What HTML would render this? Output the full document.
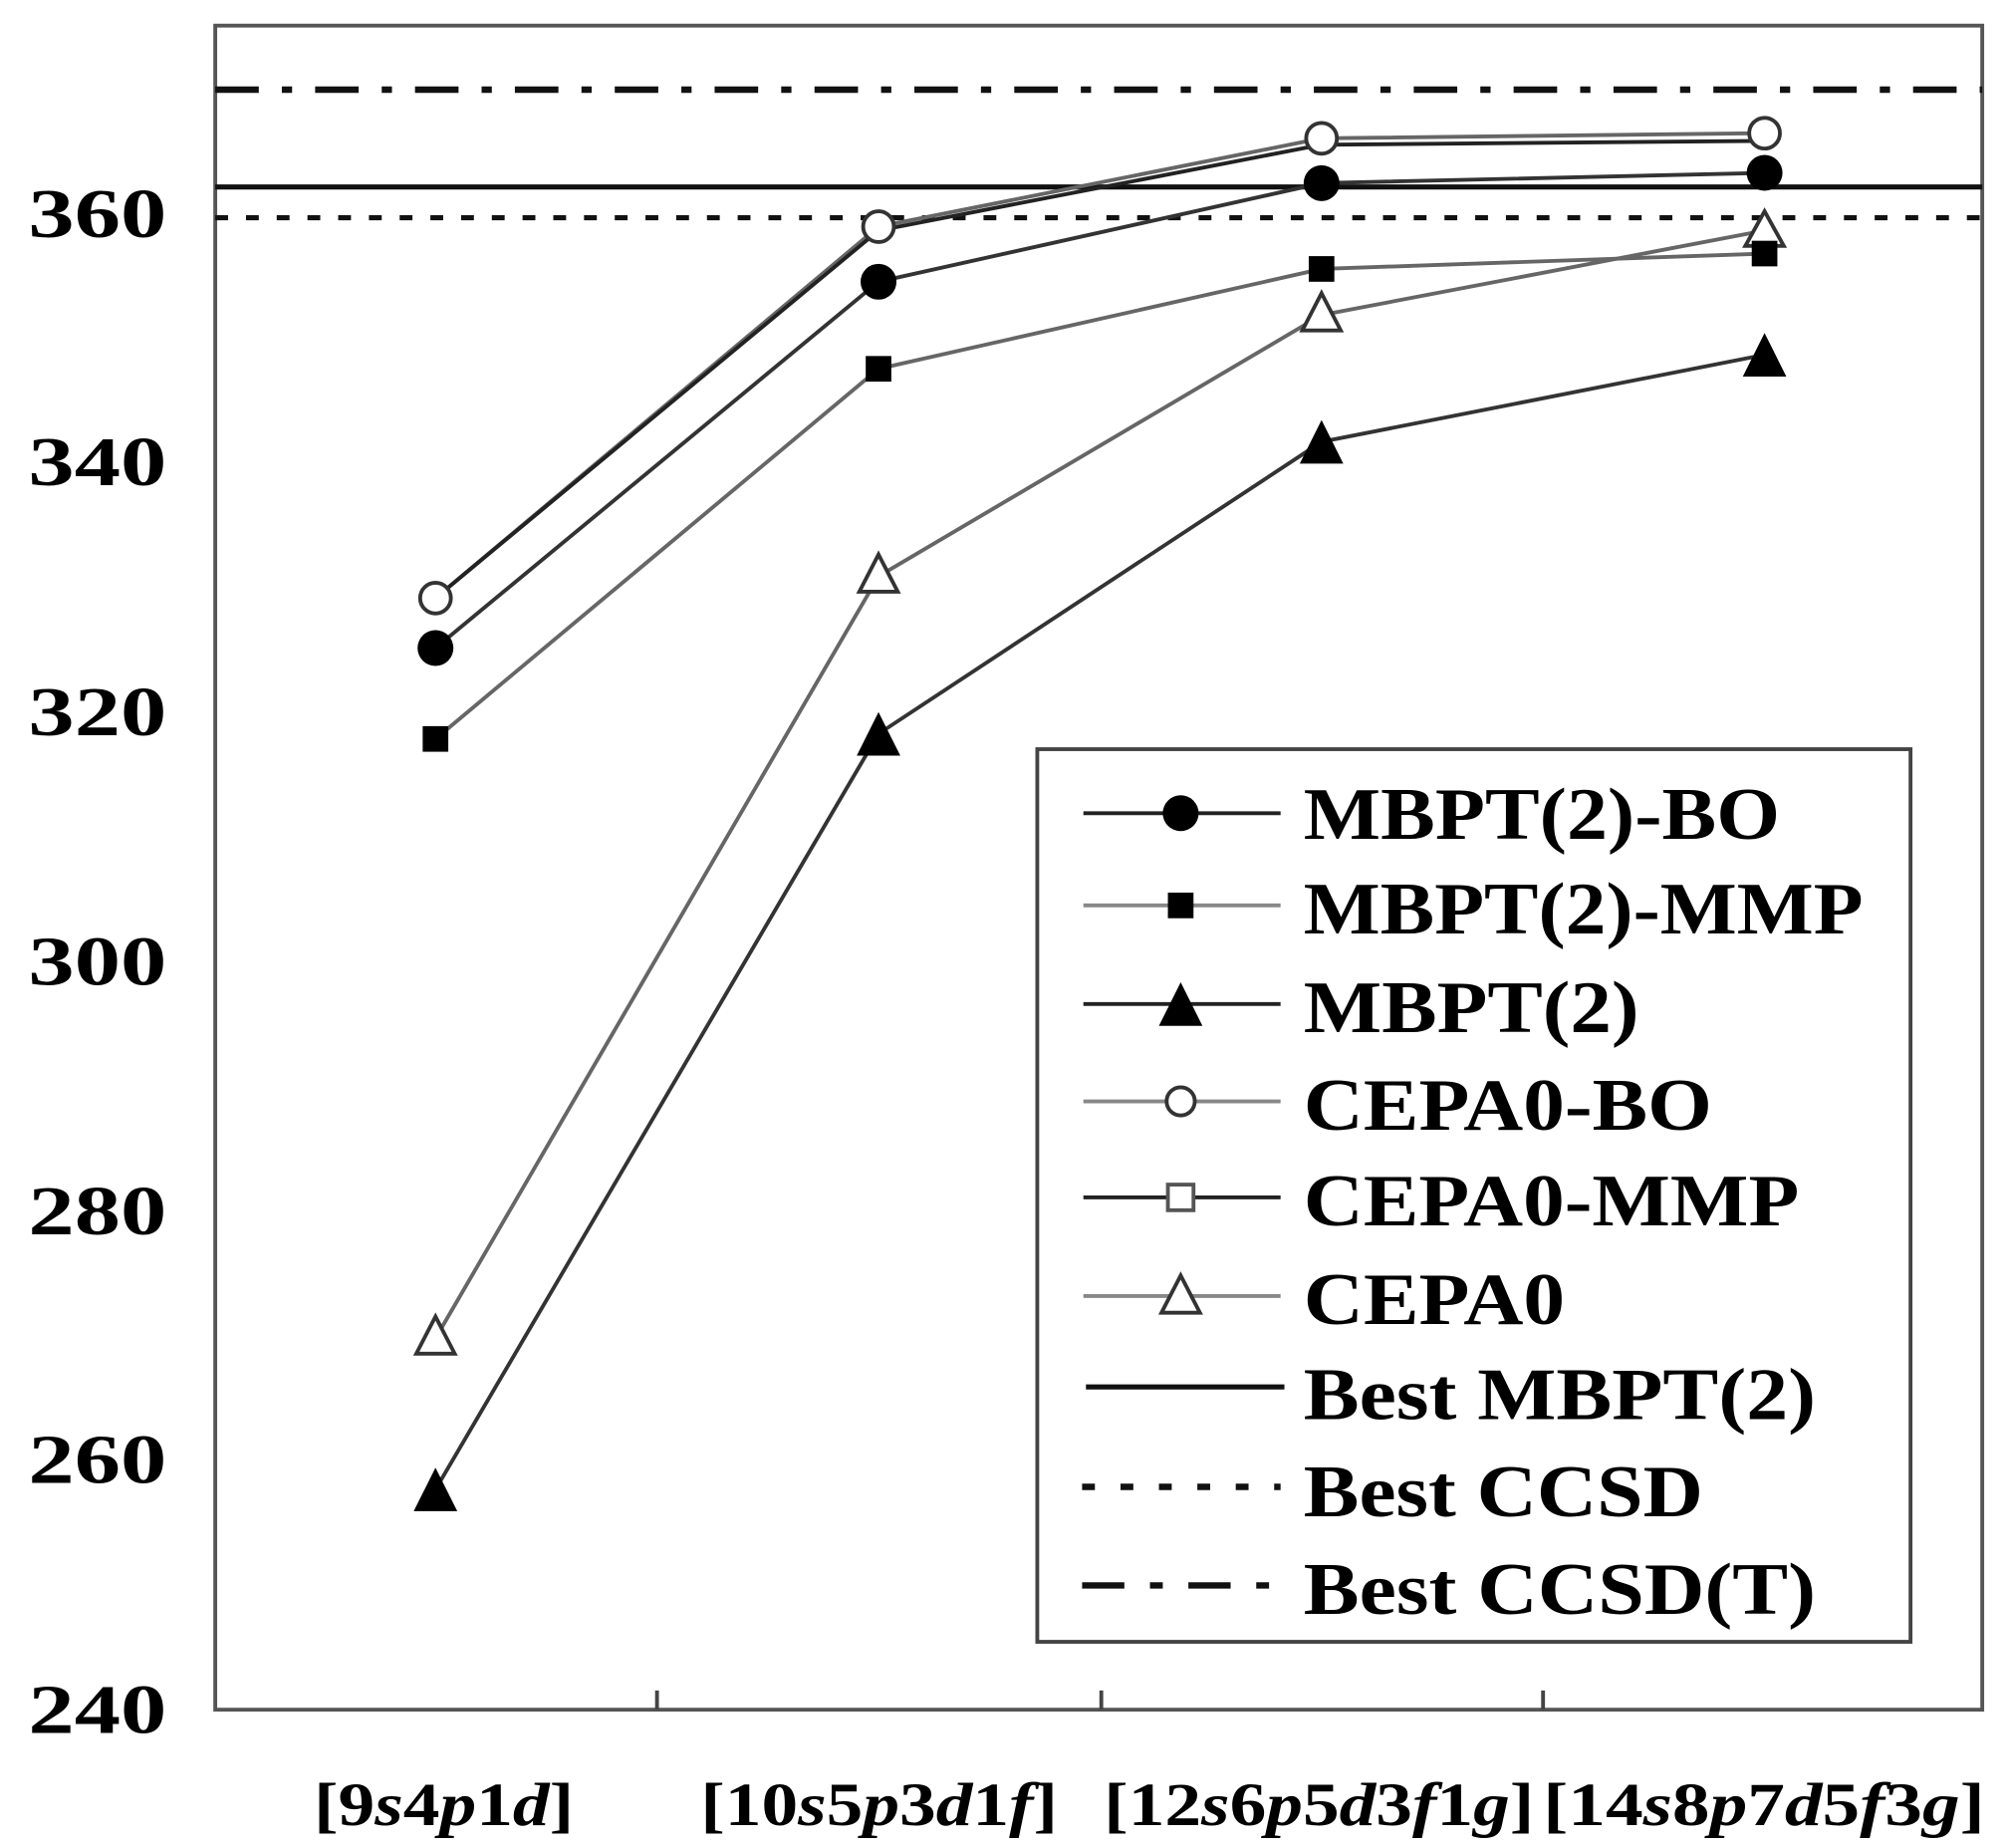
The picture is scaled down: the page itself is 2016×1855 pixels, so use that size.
<!DOCTYPE html>
<html><head><style>html,body{margin:0;padding:0;background:#fff}svg{display:block}</style></head>
<body>
<svg width="2016" height="1855" viewBox="0 0 1568 1443" xmlns="http://www.w3.org/2000/svg" font-family="Liberation Serif, serif" font-weight="bold">
<rect x="168" y="20" width="1380" height="1315" fill="none" stroke="#555" stroke-width="3"/>
<g stroke="#444" stroke-width="3"><line x1="513" y1="1335" x2="513" y2="1320"/><line x1="860" y1="1335" x2="860" y2="1320"/><line x1="1205" y1="1335" x2="1205" y2="1320"/></g>
<g font-size="54" text-anchor="start" lengthAdjust="spacingAndGlyphs">
<text x="22" y="185" textLength="108" lengthAdjust="spacingAndGlyphs">360</text>
<text x="22" y="379" textLength="108" lengthAdjust="spacingAndGlyphs">340</text>
<text x="22" y="574" textLength="108" lengthAdjust="spacingAndGlyphs">320</text>
<text x="22" y="769" textLength="108" lengthAdjust="spacingAndGlyphs">300</text>
<text x="22" y="964" textLength="108" lengthAdjust="spacingAndGlyphs">280</text>
<text x="22" y="1158" textLength="108" lengthAdjust="spacingAndGlyphs">260</text>
<text x="22" y="1353" textLength="108" lengthAdjust="spacingAndGlyphs">240</text>
</g>
<g font-size="48">
<text x="245" y="1425" textLength="203" lengthAdjust="spacingAndGlyphs">[9<tspan font-style="italic">s</tspan>4<tspan font-style="italic">p</tspan>1<tspan font-style="italic">d</tspan>]</text>
<text x="547" y="1425" textLength="279" lengthAdjust="spacingAndGlyphs">[10<tspan font-style="italic">s</tspan>5<tspan font-style="italic">p</tspan>3<tspan font-style="italic">d</tspan>1<tspan font-style="italic">f</tspan>]</text>
<text x="862" y="1425" textLength="336" lengthAdjust="spacingAndGlyphs">[12<tspan font-style="italic">s</tspan>6<tspan font-style="italic">p</tspan>5<tspan font-style="italic">d</tspan>3<tspan font-style="italic">f</tspan>1<tspan font-style="italic">g</tspan>]</text>
<text x="1205" y="1425" textLength="345" lengthAdjust="spacingAndGlyphs">[14<tspan font-style="italic">s</tspan>8<tspan font-style="italic">p</tspan>7<tspan font-style="italic">d</tspan>5<tspan font-style="italic">f</tspan>3<tspan font-style="italic">g</tspan>]</text>
</g>
<line x1="168" y1="70" x2="1548" y2="70" stroke="#111" stroke-width="5" stroke-dasharray="34,18,8,18"/>
<line x1="168" y1="146" x2="1548" y2="146" stroke="#111" stroke-width="4"/>
<line x1="168" y1="170" x2="1548" y2="170" stroke="#111" stroke-width="4" stroke-dasharray="10,14"/>
<g fill="none" stroke-width="3">
<polyline points="340,1045 686,450 1032,246 1378,180" stroke="#666"/>
<polyline points="340,1163 686,573 1032,345 1378,277" stroke="#333"/>
<polyline points="340,577 686,288 1032,210 1378,198" stroke="#666"/>
<polyline points="340,506 686,220 1032,143 1378,135" stroke="#333"/>
<polyline points="340,467 686,177 1032,108 1378,104" stroke="#666"/>
<polyline points="340,467 686,180 1032,113 1378,110" stroke="#222"/>
</g>
<g fill="#fff" stroke="#333" stroke-width="3">
<path d="M340,1028 L355,1057 L325,1057Z"/><path d="M686,433 L701,462 L671,462Z"/><path d="M1032,229 L1047,258 L1017,258Z"/><path d="M1378,165 L1393,192 L1363,192Z"/>
<circle cx="340" cy="467" r="12"/><circle cx="686" cy="177" r="12"/><circle cx="1032" cy="108" r="12"/><circle cx="1378" cy="104" r="12"/>
</g>
<g fill="#000">
<path d="M340,1146 L357,1180 L323,1180Z"/><path d="M686,556 L703,590 L669,590Z"/><path d="M1032,328 L1049,362 L1015,362Z"/><path d="M1378,260 L1395,294 L1361,294Z"/>
<rect x="330" y="567" width="20" height="20"/><rect x="676" y="278" width="20" height="20"/><rect x="1022" y="200" width="20" height="20"/><rect x="1368" y="188" width="20" height="20"/>
<circle cx="340" cy="506" r="14"/><circle cx="686" cy="220" r="14"/><circle cx="1032" cy="143" r="14"/><circle cx="1378" cy="135" r="14"/>
</g>
<rect x="810" y="585" width="682" height="697" fill="#fff" stroke="#444" stroke-width="3"/>
<g stroke-width="3">
<line x1="846" y1="635" x2="1000" y2="635" stroke="#222"/><circle cx="922" cy="635" r="14"/>
<line x1="846" y1="707" x2="1000" y2="707" stroke="#888"/><rect x="912" y="697" width="20" height="20"/>
<line x1="846" y1="784" x2="1000" y2="784" stroke="#222"/><path d="M922,767 L939,801 L905,801Z"/>
<line x1="846" y1="860" x2="1000" y2="860" stroke="#888"/><circle cx="922" cy="860" r="11" fill="#fff" stroke="#333"/>
<line x1="846" y1="935" x2="1000" y2="935" stroke="#222"/><rect x="912" y="925" width="20" height="20" fill="#fff" stroke="#555"/>
<line x1="846" y1="1012" x2="1000" y2="1012" stroke="#888"/><path d="M922,996 L937,1025 L907,1025Z" fill="#fff" stroke="#333"/>
<line x1="848" y1="1083" x2="1003" y2="1083" stroke="#111" stroke-width="4"/>
<line x1="845" y1="1161" x2="1000" y2="1161" stroke="#111" stroke-width="5" stroke-dasharray="10,20"/>
<line x1="845" y1="1238" x2="1003" y2="1238" stroke="#111" stroke-width="5" stroke-dasharray="33,20,10,20"/>
</g>
<g font-size="58" fill="#000">
<text x="1018" y="655" textLength="372" lengthAdjust="spacingAndGlyphs">MBPT(2)-BO</text>
<text x="1018" y="729" textLength="437" lengthAdjust="spacingAndGlyphs">MBPT(2)-MMP</text>
<text x="1018" y="806" textLength="262" lengthAdjust="spacingAndGlyphs">MBPT(2)</text>
<text x="1018" y="882" textLength="319" lengthAdjust="spacingAndGlyphs">CEPA0-BO</text>
<text x="1018" y="957" textLength="387" lengthAdjust="spacingAndGlyphs">CEPA0-MMP</text>
<text x="1018" y="1034" textLength="204" lengthAdjust="spacingAndGlyphs">CEPA0</text>
<text x="1018" y="1108" textLength="400" lengthAdjust="spacingAndGlyphs">Best MBPT(2)</text>
<text x="1018" y="1184" textLength="312" lengthAdjust="spacingAndGlyphs">Best CCSD</text>
<text x="1018" y="1260" textLength="400" lengthAdjust="spacingAndGlyphs">Best CCSD(T)</text>
</g>
</svg>
</body></html>
